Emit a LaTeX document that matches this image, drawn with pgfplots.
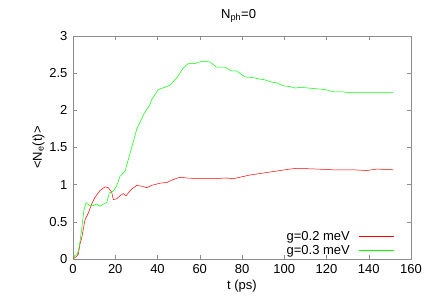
\documentclass[border=0pt]{standalone}
\usepackage{pgfplots}
\pgfplotsset{compat=1.18}
\usepackage{fontspec}
\setmainfont{Liberation Sans}
\begin{document}
\fontsize{13}{15}\selectfont
\begin{tikzpicture}[x=1pt,y=1pt]
\begin{axis}[
  at={(0,0)}, anchor=south west,
  scale only axis, width=338pt, height=223pt,
  xmin=0, xmax=160, ymin=0, ymax=3,
  xtick={0,20,...,160}, ytick={0,0.5,1,1.5,2,2.5,3},
  tick align=inside, major tick length=4pt,
  axis line style={draw=black!45},
  every tick/.style={draw=black!45},
  /pgf/number format/assume math mode=true,
  tick label style={font=\fontsize{13}{15}\selectfont},
  xticklabel style={yshift=-1pt},
  yticklabel style={xshift=-1pt},
  title={N\textsubscript{ph}=0},
  title style={at={(0.49,1)}, yshift=3pt, font=\fontsize{13}{15}\selectfont},
  xlabel={t (ps)},
  xlabel style={yshift=3pt, font=\fontsize{13}{15}\selectfont},
  ylabel={<N\textsubscript{e}(t)>},
  ylabel style={yshift=-4pt, font=\fontsize{13}{15}\selectfont},
  legend style={draw=none, fill=none, at={(0.95,0.009)}, anchor=south east,
    font=\fontsize{13}{15}\selectfont, row sep=2pt, inner sep=0pt,
    nodes={inner sep=0.5pt},
    legend cell align=right},
  legend plot pos=right,
  legend image code/.code={\path (0pt,0pt); \draw[#1, line width=0.6pt] (8pt,0pt) -- (43pt,0pt);},
]
\addplot[color=red, line width=0.5pt] coordinates {
(0,0) (1,0.02) (2.5,0.06) (3.3,0.2) (4.1,0.28) (5.7,0.53) (7.3,0.62) (8.8,0.74) (10.4,0.83)
(12.8,0.92) (15.1,0.97) (16.7,0.96) (18.3,0.90) (19.1,0.80) (20.7,0.81) (22.2,0.85)
(23.8,0.88) (25.1,0.85) (27,0.92) (30.1,0.99) (32.5,0.98) (34.9,0.96) (37.2,0.99)
(41.2,1.02) (44.4,1.03) (47.5,1.07) (50.6,1.10) (53.8,1.09) (60.1,1.08) (66.4,1.08)
(72.7,1.09) (75.9,1.08) (79,1.10) (83.8,1.13) (88.5,1.15) (93.3,1.17) (98,1.19)
(102.7,1.21) (105.9,1.22) (115.4,1.21) (123.2,1.20) (132.7,1.20) (139,1.19) (143.8,1.21)
(151.6,1.20)
};
\addlegendentry{g=0.2 meV}
\addplot[color=green, line width=0.5pt] coordinates {
(0,0) (0.95,0.05) (2.0,0.06) (3.0,0.17) (4.1,0.40) (5.2,0.66) (6.2,0.76) (7.3,0.73)
(8.4,0.71) (9.6,0.72) (11.2,0.74) (12.8,0.71) (14.4,0.74) (16,0.76) (17.2,0.89)
(19,0.91) (20.6,0.98) (22.2,1.11) (24.6,1.18) (26.2,1.34) (27.8,1.50) (30.1,1.74)
(33.3,1.94) (36.3,2.07) (37.2,2.14) (40.4,2.28) (43.5,2.31) (45.9,2.34) (48.9,2.43)
(52.2,2.57) (54.6,2.63) (57.8,2.63) (61,2.66) (64.9,2.65) (68,2.58) (71.9,2.58)
(75.1,2.53) (77.4,2.53) (81.4,2.45) (85.4,2.44) (88.5,2.42) (90.9,2.41) (94,2.38)
(96.4,2.37) (99.6,2.33) (102.7,2.32) (105.1,2.30) (108.2,2.31) (111.4,2.30)
(115.4,2.29) (119.3,2.28) (123.2,2.25) (127.9,2.25) (129.6,2.24) (135.9,2.24)
(142.3,2.24) (151.6,2.24)
};
\addlegendentry{g=0.3 meV}
\end{axis}
\pgfresetboundingbox
\useasboundingbox (-73pt,-42pt) rectangle (352pt,259pt);
\end{tikzpicture}
\end{document}
